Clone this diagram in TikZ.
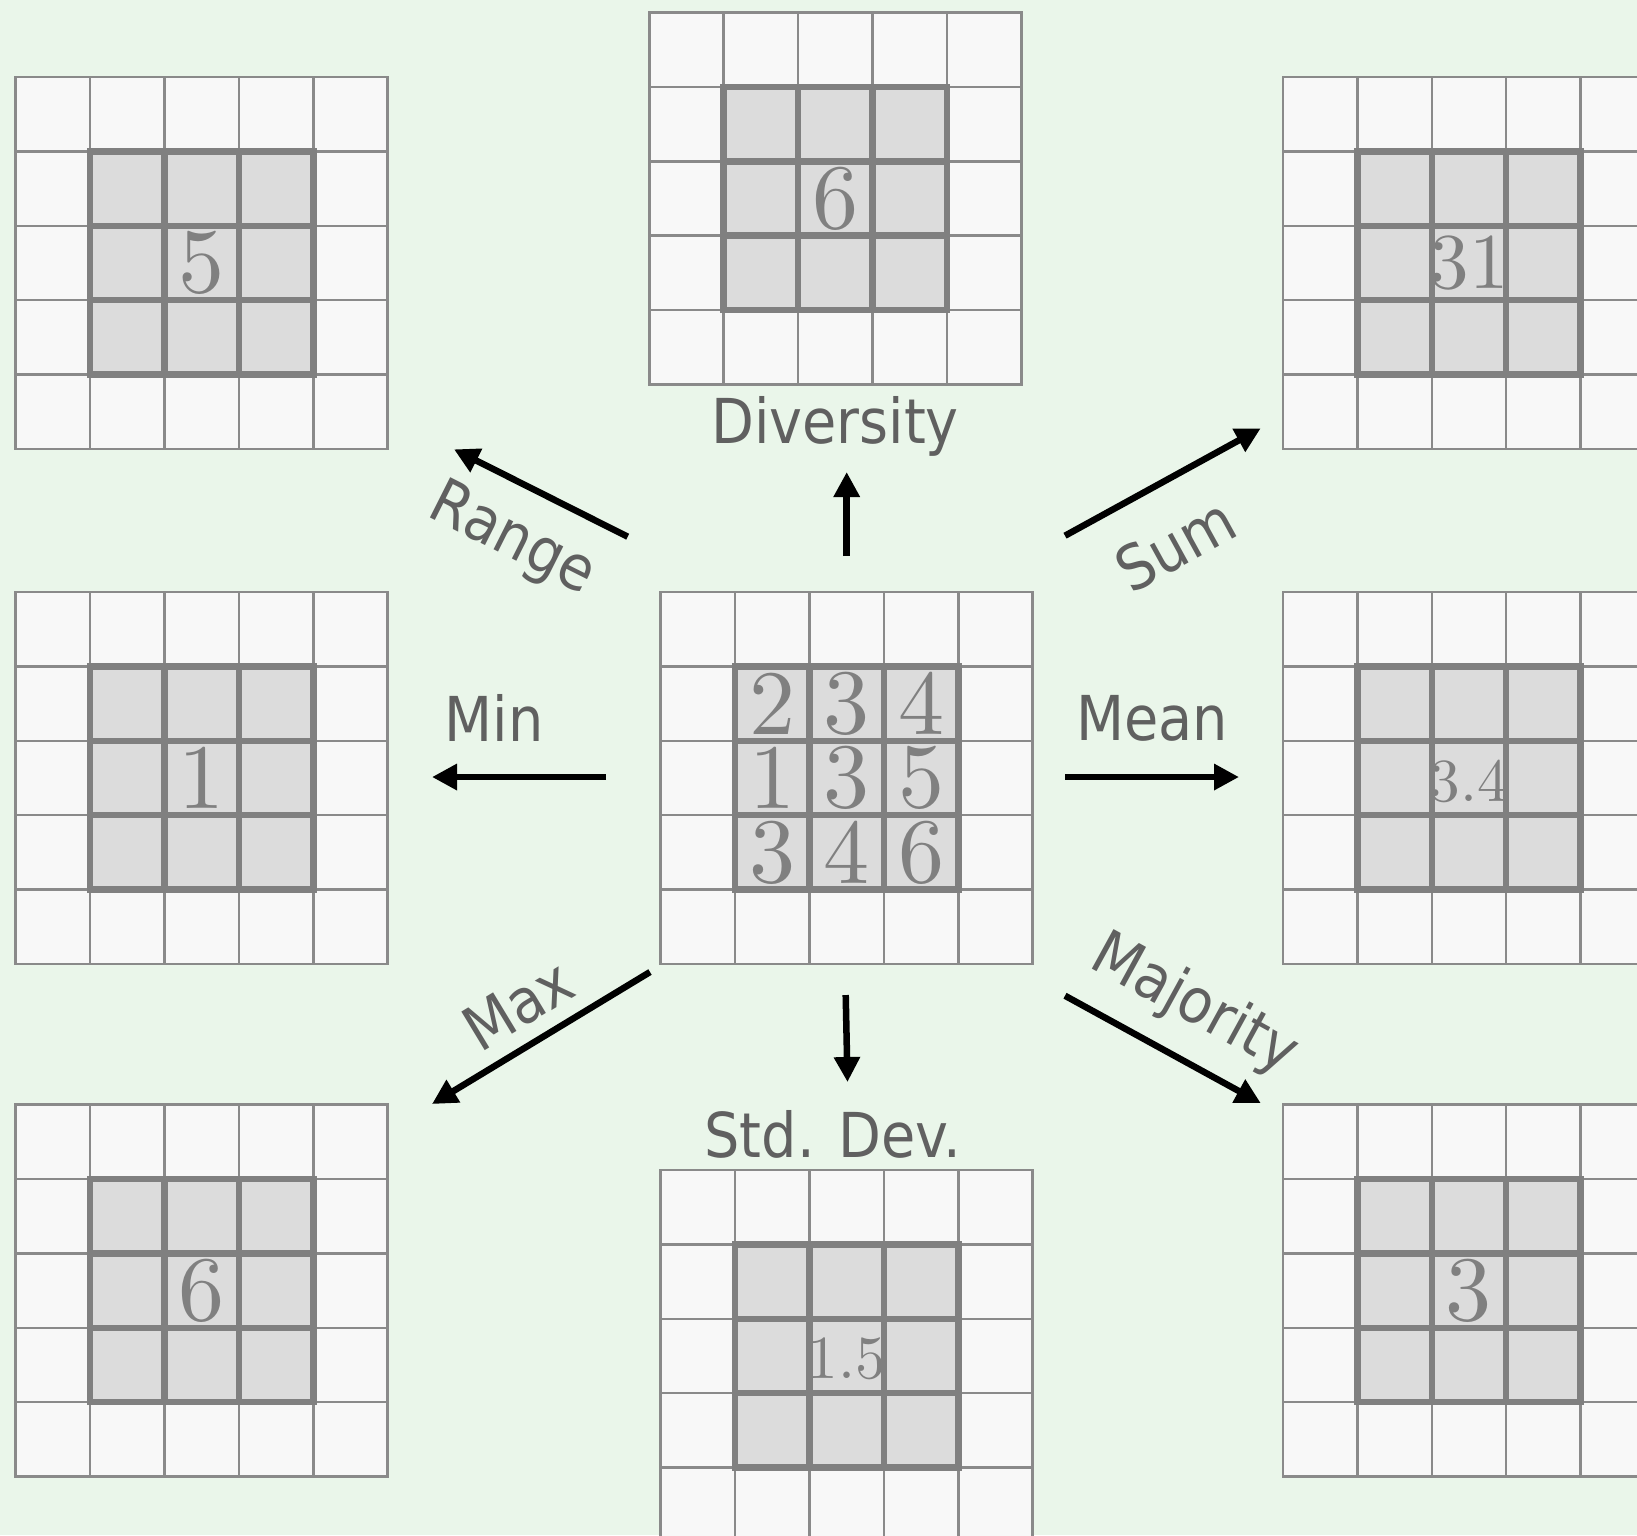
\documentclass[tikz,border=0pt]{standalone}
\usepackage{fontspec}
\usepackage{tikz}
\usetikzlibrary{arrows.meta}
\newfontfamily\labelfont{DejaVu Sans Condensed}
\newfontfamily\numfont{lmroman10-regular.otf}
\definecolor{bggreen}{HTML}{EAF6EA}
\definecolor{cellout}{HTML}{F8F8F8}
\definecolor{cellin}{HTML}{DCDCDC}
\definecolor{gridgray}{HTML}{8A8A8A}
\definecolor{boldgray}{HTML}{808080}
\definecolor{labelgray}{HTML}{606060}

% 5x5 window with the 3x3 neighbourhood in the middle, top left corner at (#2,#3)
\newcommand{\featgrid}[3]{%
	\begin{scope}[shift={(#2,#3)}]
	\fill [cellout] (0,0) rectangle (372,372);
	\foreach \i in {1,2,3,4} {
		\draw [gridline] (\i*74.4,0) -- (\i*74.4,372);
		\draw [gridline] (0,\i*74.4) -- (372,\i*74.4);
	}
	\draw [gridline] (0,0) rectangle (372,372);
	\fill [cellin] (74.4,74.4) rectangle (297.6,297.6);
	\foreach \i in {2,3} {
		\draw [boldline] (\i*74.4,74.4) -- (\i*74.4,297.6);
		\draw [boldline] (74.4,\i*74.4) -- (297.6,\i*74.4);
	}
	\draw [boldline] (74.4,74.4) rectangle (297.6,297.6);
	\coordinate (#1) at (186,186);
	\end{scope}}

\begin{document}
\begin{tikzpicture}[x=0.01cm,y=-0.01cm,
	gridline/.style={draw=gridgray,line width=0.7pt},
	boldline/.style={draw=boldgray,line width=1.85pt},
	val/.style={text=boldgray,inner sep=0pt,font=\numfont\fontsize{26.2}{28}\selectfont},
	oplabel/.style={text=labelgray,inner sep=0pt,font=\labelfont\fontsize{17.6}{20}\selectfont},
	oparrow/.style={line width=1.85pt,-{Triangle[length=2.5mm,width=2.5mm]}}]
	\useasboundingbox (0,0) rectangle (1637,1535);
	\clip (0,0) rectangle (1637,1535);
	\fill [bggreen] (0,0) rectangle (1637,1535);

	\featgrid{rng}{15.7}{77}
	\featgrid{div}{649.3}{12.5}
	\featgrid{sum}{1283}{77}
	\featgrid{min}{15.7}{592}
	\featgrid{in}{660.7}{592}
	\featgrid{mean}{1283}{592}
	\featgrid{max}{15.7}{1104.6}
	\featgrid{std}{660.7}{1170}
	\featgrid{maj}{1283}{1104.6}

	% input values
	\node [val] (in-a) at ([shift={(-74.4,-74.4)}]in) {2};
	\node [val] (in-b) at ([shift={(0,-74.4)}]in) {3};
	\node [val] (in-c) at ([shift={(74.4,-74.4)}]in) {4};
	\node [val] (in-d) at ([shift={(-74.4,0)}]in) {1};
	\node [val] (in-e) at (in) {3};
	\node [val] (in-f) at ([shift={(74.4,0)}]in) {5};
	\node [val] (in-g) at ([shift={(-74.4,74.4)}]in) {3};
	\node [val] (in-h) at ([shift={(0,74.4)}]in) {4};
	\node [val] (in-i) at ([shift={(74.4,74.4)}]in) {6};

	% results
	\node [val] (rng-v) at (rng) {5};
	\node [val] (div-v) at (div) {6};
	\node [val,font=\numfont\fontsize{22.5}{24}\selectfont] (sum-v) at (sum) {31};
	\node [val] (min-v) at (min) {1};
	\node [val,font=\numfont\fontsize{17.4}{19}\selectfont] (mean-v) at ([shift={(0,3)}]mean) {3.4};
	\node [val] (max-v) at (max) {6};
	\node [val,font=\numfont\fontsize{17.4}{19}\selectfont] (std-v) at ([shift={(0,3)}]std) {1.5};
	\node [val] (maj-v) at (maj) {3};

	% arrow ends
	\coordinate (div-s) at (846.7,556);
	\coordinate (div-e) at (846.7,472);
	\coordinate (rng-s) at (627.7,536.7);
	\coordinate (rng-e) at (454,449.3);
	\coordinate (sum-s) at (1065,535.7);
	\coordinate (sum-e) at (1260.7,428.3);
	\coordinate (min-s) at (606,777);
	\coordinate (min-e) at (432,777);
	\coordinate (mean-s) at (1065,777);
	\coordinate (mean-e) at (1239,777);
	\coordinate (max-s) at (650,972);
	\coordinate (max-e) at (432,1104);
	\coordinate (std-s) at (845.7,995);
	\coordinate (std-e) at (847.5,1082);
	\coordinate (maj-s) at (1065,995.7);
	\coordinate (maj-e) at (1260.7,1103);

	\draw [oparrow] (div-s) -- (div-e);
	\draw [oparrow] (rng-s) -- (rng-e);
	\draw [oparrow] (sum-s) -- (sum-e);
	\draw [oparrow] (min-s) -- (min-e);
	\draw [oparrow] (mean-s) -- (mean-e);
	\draw [oparrow] (max-s) -- (max-e);
	\draw [oparrow] (std-s) -- (std-e);
	\draw [oparrow] (maj-s) -- (maj-e);

	\node [oplabel] (div-l) at (835,426) {Diversity};
	\node [oplabel,rotate=-26.7] (rng-l) at (512,541) {Range};
	\node [oplabel,rotate=28.8] (sum-l) at (1175,545) {Sum};
	\node [oplabel] (min-l) at (494,718) {Min};
	\node [oplabel] (mean-l) at (1152,718) {Mean};
	\node [oplabel,rotate=31.2] (max-l) at (518,1005) {Max};
	\node [oplabel] (std-l) at (833,1134) {Std. Dev.};
	\node [oplabel,rotate=-28.7] (maj-l) at (1194,1005) {Majority};
\end{tikzpicture}
\end{document}
